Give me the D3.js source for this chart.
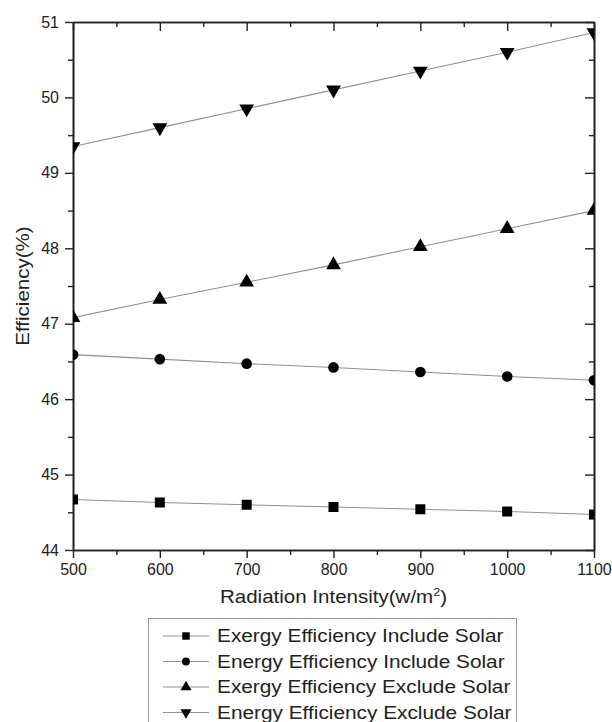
<!DOCTYPE html>
<html>
<head>
<meta charset="utf-8">
<script src="https://cdn.jsdelivr.net/npm/d3@7"></script>
<style>
  body { margin: 0; background: #fff; }
  text { font-family: Arial, "Liberation Sans", sans-serif; fill: #222; }
</style>
</head>
<body>
<div id="chart"></div>
<script>
// chart data
var radiation = [500, 600, 700, 800, 900, 1000, 1100];
var exergyInclude = [44.67, 44.63, 44.60, 44.57, 44.54, 44.51, 44.47];
var energyInclude = [46.59, 46.53, 46.47, 46.42, 46.36, 46.30, 46.25];
var exergyExclude = [47.08, 47.32, 47.55, 47.78, 48.02, 48.26, 48.50];
var energyExclude = [49.35, 49.60, 49.85, 50.10, 50.35, 50.60, 50.86];
var seriesNames = [
  "Exergy Efficiency Include Solar",
  "Energy Efficiency Include Solar",
  "Exergy Efficiency Exclude Solar",
  "Energy Efficiency Exclude Solar"
];
var xTicks = [500, 600, 700, 800, 900, 1000, 1100];
var yTicks = [44, 45, 46, 47, 48, 49, 50, 51];

var svgWidth = 612;
var svgHeight = 722;

var margin = { top: 22, right: 18, bottom: 172, left: 73 };
var chartW = svgWidth - margin.left - margin.right;
var chartH = svgHeight - margin.top - margin.bottom;

// the original's lettering is a bit wider than Arial
var stretch = 1.14;

var svg = d3.select("#chart")
  .append("svg")
  .attr("width", svgWidth)
  .attr("height", svgHeight);

var chartGrp = svg.append("g")
  .attr("transform", `translate(${margin.left}, ${margin.top})`);

var xScale = d3.scaleLinear().domain([500, 1100]).range([0, chartW]);
var yScale = d3.scaleLinear().domain([44, 51]).range([chartH, 0]);

var xMinor = d3.range(550, 1100, 100);
var yMinor = d3.range(44.5, 51, 1);

// clip so edge markers get cut like the original
svg.append("defs").append("clipPath").attr("id", "plotClip")
  .append("rect").attr("width", chartW).attr("height", chartH);

// bottom axis (ticks out)
var bottomAxis = chartGrp.append("g")
  .attr("transform", `translate(0, ${chartH})`)
  .call(d3.axisBottom(xScale).tickValues(xTicks).tickFormat(d3.format("d")).tickSize(8).tickPadding(6).tickSizeOuter(0));
bottomAxis.selectAll("text").attr("font-size", "16px");
chartGrp.append("g")
  .attr("transform", `translate(0, ${chartH})`)
  .call(d3.axisBottom(xScale).tickValues(xMinor).tickSize(5).tickFormat("").tickSizeOuter(0));

// left axis (ticks out)
var leftAxis = chartGrp.append("g")
  .call(d3.axisLeft(yScale).tickValues(yTicks).tickFormat(d3.format("d")).tickSize(8).tickPadding(6).tickSizeOuter(0));
leftAxis.selectAll("text").attr("font-size", "16px");
chartGrp.append("g")
  .call(d3.axisLeft(yScale).tickValues(yMinor).tickSize(5).tickFormat("").tickSizeOuter(0));

// top and right axes (ticks in, no labels)
chartGrp.append("g")
  .call(d3.axisTop(xScale).tickValues(xTicks).tickSize(-9).tickFormat("").tickSizeOuter(0));
chartGrp.append("g")
  .call(d3.axisTop(xScale).tickValues(xMinor).tickSize(-5).tickFormat("").tickSizeOuter(0));
chartGrp.append("g")
  .attr("transform", `translate(${chartW}, 0)`)
  .call(d3.axisRight(yScale).tickValues(yTicks).tickSize(-9).tickFormat("").tickSizeOuter(0));
chartGrp.append("g")
  .attr("transform", `translate(${chartW}, 0)`)
  .call(d3.axisRight(yScale).tickValues(yMinor).tickSize(-5).tickFormat("").tickSizeOuter(0));

chartGrp.selectAll(".domain").attr("stroke", "#222").attr("stroke-width", 1.6);
chartGrp.selectAll(".tick line").attr("stroke", "#222").attr("stroke-width", 1.4);

// series
var allSeries = [exergyInclude, energyInclude, exergyExclude, energyExclude];
var symbols = [d3.symbolSquare, d3.symbolCircle, d3.symbolTriangle, d3.symbolTriangle];
var symSizes = [100, 90, 95, 95];
var symRotate = [0, 0, 0, 180];

var line = d3.line()
  .x((d, i) => xScale(radiation[i]))
  .y(d => yScale(d));

var plotGrp = chartGrp.append("g").attr("clip-path", "url(#plotClip)");

allSeries.forEach(function(vals, s) {
  plotGrp.append("path")
    .datum(vals)
    .attr("d", line)
    .attr("fill", "none")
    .attr("stroke", "#909090")
    .attr("stroke-width", 1.1);

  plotGrp.selectAll(".m" + s)
    .data(vals)
    .enter()
    .append("path")
    .attr("class", "m" + s)
    .attr("d", d3.symbol().type(symbols[s]).size(symSizes[s]))
    .attr("transform", (d, i) => `translate(${xScale(radiation[i])}, ${yScale(d)}) rotate(${symRotate[s]})`)
    .attr("fill", "#000");
});

// axis titles
svg.append("text")
  .attr("transform", `translate(${margin.left + chartW / 2}, 603) scale(${stretch}, 1)`)
  .attr("text-anchor", "middle")
  .attr("font-size", "18px")
  .html("Radiation Intensity(w/m<tspan dy='-7' font-size='11px'>2</tspan><tspan dy='7'>)</tspan>");

svg.append("text")
  .attr("transform", `translate(29, ${margin.top + chartH / 2}) rotate(-90) scale(${stretch}, 1)`)
  .attr("text-anchor", "middle")
  .attr("font-size", "18px")
  .text("Efficiency(%)");

// legend
var legend = svg.append("g");
legend.append("rect")
  .attr("x", 148.5)
  .attr("y", 618.5)
  .attr("width", 368)
  .attr("height", 120)
  .attr("fill", "#fff")
  .attr("stroke", "#999")
  .attr("stroke-width", 1);

seriesNames.forEach(function(name, s) {
  var yy = 636 + s * 25.5;
  legend.append("line")
    .attr("x1", 163).attr("x2", 209)
    .attr("y1", yy).attr("y2", yy)
    .attr("stroke", "#909090")
    .attr("stroke-width", 1.1);
  legend.append("path")
    .attr("d", d3.symbol().type(symbols[s]).size(symSizes[s] * 0.55))
    .attr("transform", `translate(186, ${yy}) rotate(${symRotate[s]})`)
    .attr("fill", "#000");
  legend.append("text")
    .attr("transform", `translate(217, ${yy}) scale(1.19, 1)`)
    .attr("dy", "0.36em")
    .attr("font-size", "17.5px")
    .text(name);
});
</script>
</body>
</html>
